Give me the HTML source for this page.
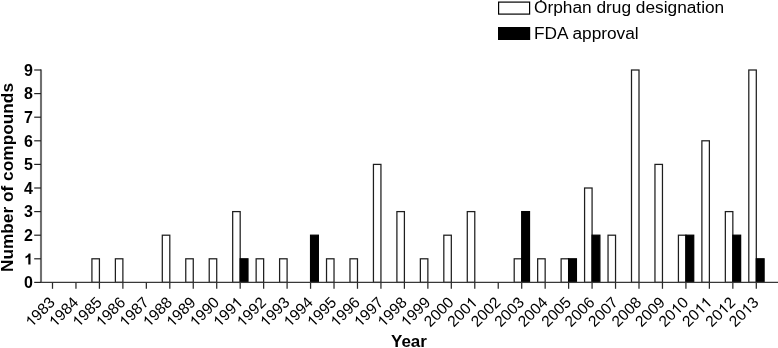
<!DOCTYPE html>
<html><head><meta charset="utf-8"><style>
html,body{margin:0;padding:0;background:#fff;}
body{width:778px;height:348px;overflow:hidden;}
svg{display:block;will-change:transform;font-family:"Liberation Sans",sans-serif;fill:#000;}
</style></head><body>
<svg width="778" height="348" viewBox="0 0 778 348">
<rect x="91.92" y="258.80" width="7.5" height="23.60" fill="#fff" stroke="#1e1e1e" stroke-width="1.25"/>
<rect x="115.38" y="258.80" width="7.5" height="23.60" fill="#fff" stroke="#1e1e1e" stroke-width="1.25"/>
<rect x="162.30" y="235.20" width="7.5" height="47.20" fill="#fff" stroke="#1e1e1e" stroke-width="1.25"/>
<rect x="185.76" y="258.80" width="7.5" height="23.60" fill="#fff" stroke="#1e1e1e" stroke-width="1.25"/>
<rect x="209.22" y="258.80" width="7.5" height="23.60" fill="#fff" stroke="#1e1e1e" stroke-width="1.25"/>
<rect x="232.68" y="211.60" width="7.5" height="70.80" fill="#fff" stroke="#1e1e1e" stroke-width="1.25"/>
<rect x="240.18" y="258.80" width="7.8" height="23.60" fill="#000" stroke="#000" stroke-width="1.25"/>
<rect x="256.14" y="258.80" width="7.5" height="23.60" fill="#fff" stroke="#1e1e1e" stroke-width="1.25"/>
<rect x="279.60" y="258.80" width="7.5" height="23.60" fill="#fff" stroke="#1e1e1e" stroke-width="1.25"/>
<rect x="310.56" y="235.20" width="7.8" height="47.20" fill="#000" stroke="#000" stroke-width="1.25"/>
<rect x="326.52" y="258.80" width="7.5" height="23.60" fill="#fff" stroke="#1e1e1e" stroke-width="1.25"/>
<rect x="349.98" y="258.80" width="7.5" height="23.60" fill="#fff" stroke="#1e1e1e" stroke-width="1.25"/>
<rect x="373.44" y="164.40" width="7.5" height="118.00" fill="#fff" stroke="#1e1e1e" stroke-width="1.25"/>
<rect x="396.90" y="211.60" width="7.5" height="70.80" fill="#fff" stroke="#1e1e1e" stroke-width="1.25"/>
<rect x="420.36" y="258.80" width="7.5" height="23.60" fill="#fff" stroke="#1e1e1e" stroke-width="1.25"/>
<rect x="443.82" y="235.20" width="7.5" height="47.20" fill="#fff" stroke="#1e1e1e" stroke-width="1.25"/>
<rect x="467.28" y="211.60" width="7.5" height="70.80" fill="#fff" stroke="#1e1e1e" stroke-width="1.25"/>
<rect x="514.20" y="258.80" width="7.5" height="23.60" fill="#fff" stroke="#1e1e1e" stroke-width="1.25"/>
<rect x="521.70" y="211.60" width="7.8" height="70.80" fill="#000" stroke="#000" stroke-width="1.25"/>
<rect x="537.66" y="258.80" width="7.5" height="23.60" fill="#fff" stroke="#1e1e1e" stroke-width="1.25"/>
<rect x="561.12" y="258.80" width="7.5" height="23.60" fill="#fff" stroke="#1e1e1e" stroke-width="1.25"/>
<rect x="568.62" y="258.80" width="7.8" height="23.60" fill="#000" stroke="#000" stroke-width="1.25"/>
<rect x="584.58" y="188.00" width="7.5" height="94.40" fill="#fff" stroke="#1e1e1e" stroke-width="1.25"/>
<rect x="592.08" y="235.20" width="7.8" height="47.20" fill="#000" stroke="#000" stroke-width="1.25"/>
<rect x="608.04" y="235.20" width="7.5" height="47.20" fill="#fff" stroke="#1e1e1e" stroke-width="1.25"/>
<rect x="631.50" y="70.00" width="7.5" height="212.40" fill="#fff" stroke="#1e1e1e" stroke-width="1.25"/>
<rect x="654.96" y="164.40" width="7.5" height="118.00" fill="#fff" stroke="#1e1e1e" stroke-width="1.25"/>
<rect x="678.42" y="235.20" width="7.5" height="47.20" fill="#fff" stroke="#1e1e1e" stroke-width="1.25"/>
<rect x="685.92" y="235.20" width="7.8" height="47.20" fill="#000" stroke="#000" stroke-width="1.25"/>
<rect x="701.88" y="140.80" width="7.5" height="141.60" fill="#fff" stroke="#1e1e1e" stroke-width="1.25"/>
<rect x="725.34" y="211.60" width="7.5" height="70.80" fill="#fff" stroke="#1e1e1e" stroke-width="1.25"/>
<rect x="732.84" y="235.20" width="7.8" height="47.20" fill="#000" stroke="#000" stroke-width="1.25"/>
<rect x="748.80" y="70.00" width="7.5" height="212.40" fill="#fff" stroke="#1e1e1e" stroke-width="1.25"/>
<rect x="756.30" y="258.80" width="7.8" height="23.60" fill="#000" stroke="#000" stroke-width="1.25"/>
<line x1="41.0" y1="69.40" x2="41.0" y2="283.00" stroke="#707070" stroke-width="2.1"/>
<line x1="40.4" y1="282.4" x2="778" y2="282.4" stroke="#383838" stroke-width="1.4"/>
<line x1="34.2" y1="282.40" x2="41.0" y2="282.40" stroke="#222" stroke-width="1.2"/>
<text x="33" y="288.20" text-anchor="end" font-weight="700" font-size="16">0</text>
<line x1="34.2" y1="258.80" x2="41.0" y2="258.80" stroke="#222" stroke-width="1.2"/>
<g transform="translate(33,264.60)"><path transform="translate(-8.898,0) scale(0.007812,-0.007812)" d="M819 0L538 0L538 1018C435 925 314 857 175 813L175 1058C248 1081 328 1124 414 1189C500 1253 559 1329 591 1409L819 1409Z"/></g>
<line x1="34.2" y1="235.20" x2="41.0" y2="235.20" stroke="#222" stroke-width="1.2"/>
<text x="33" y="241.00" text-anchor="end" font-weight="700" font-size="16">2</text>
<line x1="34.2" y1="211.60" x2="41.0" y2="211.60" stroke="#222" stroke-width="1.2"/>
<text x="33" y="217.40" text-anchor="end" font-weight="700" font-size="16">3</text>
<line x1="34.2" y1="188.00" x2="41.0" y2="188.00" stroke="#222" stroke-width="1.2"/>
<text x="33" y="193.80" text-anchor="end" font-weight="700" font-size="16">4</text>
<line x1="34.2" y1="164.40" x2="41.0" y2="164.40" stroke="#222" stroke-width="1.2"/>
<text x="33" y="170.20" text-anchor="end" font-weight="700" font-size="16">5</text>
<line x1="34.2" y1="140.80" x2="41.0" y2="140.80" stroke="#222" stroke-width="1.2"/>
<text x="33" y="146.60" text-anchor="end" font-weight="700" font-size="16">6</text>
<line x1="34.2" y1="117.20" x2="41.0" y2="117.20" stroke="#222" stroke-width="1.2"/>
<text x="33" y="123.00" text-anchor="end" font-weight="700" font-size="16">7</text>
<line x1="34.2" y1="93.60" x2="41.0" y2="93.60" stroke="#222" stroke-width="1.2"/>
<text x="33" y="99.40" text-anchor="end" font-weight="700" font-size="16">8</text>
<line x1="34.2" y1="70.00" x2="41.0" y2="70.00" stroke="#222" stroke-width="1.2"/>
<text x="33" y="75.80" text-anchor="end" font-weight="700" font-size="16">9</text>
<line x1="52.50" y1="282.4" x2="52.50" y2="288.8" stroke="#2a2a2a" stroke-width="1.25"/>
<g transform="translate(55.90,303.40) rotate(-45)"><text text-anchor="end" font-size="15.5"> 983</text><path transform="translate(-34.481,0) scale(0.007568,-0.007568)" d="M763 0L583 0L583 1103C540 1063 483 1023 413 984C343 944 280 914 223 894L223 1061C324 1106 412 1162 487 1226C562 1290 615 1352 646 1409L763 1409Z"/></g>
<line x1="75.96" y1="282.4" x2="75.96" y2="288.8" stroke="#2a2a2a" stroke-width="1.25"/>
<g transform="translate(79.36,303.40) rotate(-45)"><text text-anchor="end" font-size="15.5"> 984</text><path transform="translate(-34.481,0) scale(0.007568,-0.007568)" d="M763 0L583 0L583 1103C540 1063 483 1023 413 984C343 944 280 914 223 894L223 1061C324 1106 412 1162 487 1226C562 1290 615 1352 646 1409L763 1409Z"/></g>
<line x1="99.42" y1="282.4" x2="99.42" y2="288.8" stroke="#2a2a2a" stroke-width="1.25"/>
<g transform="translate(102.82,303.40) rotate(-45)"><text text-anchor="end" font-size="15.5"> 985</text><path transform="translate(-34.481,0) scale(0.007568,-0.007568)" d="M763 0L583 0L583 1103C540 1063 483 1023 413 984C343 944 280 914 223 894L223 1061C324 1106 412 1162 487 1226C562 1290 615 1352 646 1409L763 1409Z"/></g>
<line x1="122.88" y1="282.4" x2="122.88" y2="288.8" stroke="#2a2a2a" stroke-width="1.25"/>
<g transform="translate(126.28,303.40) rotate(-45)"><text text-anchor="end" font-size="15.5"> 986</text><path transform="translate(-34.481,0) scale(0.007568,-0.007568)" d="M763 0L583 0L583 1103C540 1063 483 1023 413 984C343 944 280 914 223 894L223 1061C324 1106 412 1162 487 1226C562 1290 615 1352 646 1409L763 1409Z"/></g>
<line x1="146.34" y1="282.4" x2="146.34" y2="288.8" stroke="#2a2a2a" stroke-width="1.25"/>
<g transform="translate(149.74,303.40) rotate(-45)"><text text-anchor="end" font-size="15.5"> 987</text><path transform="translate(-34.481,0) scale(0.007568,-0.007568)" d="M763 0L583 0L583 1103C540 1063 483 1023 413 984C343 944 280 914 223 894L223 1061C324 1106 412 1162 487 1226C562 1290 615 1352 646 1409L763 1409Z"/></g>
<line x1="169.80" y1="282.4" x2="169.80" y2="288.8" stroke="#2a2a2a" stroke-width="1.25"/>
<g transform="translate(173.20,303.40) rotate(-45)"><text text-anchor="end" font-size="15.5"> 988</text><path transform="translate(-34.481,0) scale(0.007568,-0.007568)" d="M763 0L583 0L583 1103C540 1063 483 1023 413 984C343 944 280 914 223 894L223 1061C324 1106 412 1162 487 1226C562 1290 615 1352 646 1409L763 1409Z"/></g>
<line x1="193.26" y1="282.4" x2="193.26" y2="288.8" stroke="#2a2a2a" stroke-width="1.25"/>
<g transform="translate(196.66,303.40) rotate(-45)"><text text-anchor="end" font-size="15.5"> 989</text><path transform="translate(-34.481,0) scale(0.007568,-0.007568)" d="M763 0L583 0L583 1103C540 1063 483 1023 413 984C343 944 280 914 223 894L223 1061C324 1106 412 1162 487 1226C562 1290 615 1352 646 1409L763 1409Z"/></g>
<line x1="216.72" y1="282.4" x2="216.72" y2="288.8" stroke="#2a2a2a" stroke-width="1.25"/>
<g transform="translate(220.12,303.40) rotate(-45)"><text text-anchor="end" font-size="15.5"> 990</text><path transform="translate(-34.481,0) scale(0.007568,-0.007568)" d="M763 0L583 0L583 1103C540 1063 483 1023 413 984C343 944 280 914 223 894L223 1061C324 1106 412 1162 487 1226C562 1290 615 1352 646 1409L763 1409Z"/></g>
<line x1="240.18" y1="282.4" x2="240.18" y2="288.8" stroke="#2a2a2a" stroke-width="1.25"/>
<g transform="translate(243.58,303.40) rotate(-45)"><text text-anchor="end" font-size="15.5"> 99 </text><path transform="translate(-34.481,0) scale(0.007568,-0.007568)" d="M763 0L583 0L583 1103C540 1063 483 1023 413 984C343 944 280 914 223 894L223 1061C324 1106 412 1162 487 1226C562 1290 615 1352 646 1409L763 1409Z"/><path transform="translate(-8.620,0) scale(0.007568,-0.007568)" d="M763 0L583 0L583 1103C540 1063 483 1023 413 984C343 944 280 914 223 894L223 1061C324 1106 412 1162 487 1226C562 1290 615 1352 646 1409L763 1409Z"/></g>
<line x1="263.64" y1="282.4" x2="263.64" y2="288.8" stroke="#2a2a2a" stroke-width="1.25"/>
<g transform="translate(267.04,303.40) rotate(-45)"><text text-anchor="end" font-size="15.5"> 992</text><path transform="translate(-34.481,0) scale(0.007568,-0.007568)" d="M763 0L583 0L583 1103C540 1063 483 1023 413 984C343 944 280 914 223 894L223 1061C324 1106 412 1162 487 1226C562 1290 615 1352 646 1409L763 1409Z"/></g>
<line x1="287.10" y1="282.4" x2="287.10" y2="288.8" stroke="#2a2a2a" stroke-width="1.25"/>
<g transform="translate(290.50,303.40) rotate(-45)"><text text-anchor="end" font-size="15.5"> 993</text><path transform="translate(-34.481,0) scale(0.007568,-0.007568)" d="M763 0L583 0L583 1103C540 1063 483 1023 413 984C343 944 280 914 223 894L223 1061C324 1106 412 1162 487 1226C562 1290 615 1352 646 1409L763 1409Z"/></g>
<line x1="310.56" y1="282.4" x2="310.56" y2="288.8" stroke="#2a2a2a" stroke-width="1.25"/>
<g transform="translate(313.96,303.40) rotate(-45)"><text text-anchor="end" font-size="15.5"> 994</text><path transform="translate(-34.481,0) scale(0.007568,-0.007568)" d="M763 0L583 0L583 1103C540 1063 483 1023 413 984C343 944 280 914 223 894L223 1061C324 1106 412 1162 487 1226C562 1290 615 1352 646 1409L763 1409Z"/></g>
<line x1="334.02" y1="282.4" x2="334.02" y2="288.8" stroke="#2a2a2a" stroke-width="1.25"/>
<g transform="translate(337.42,303.40) rotate(-45)"><text text-anchor="end" font-size="15.5"> 995</text><path transform="translate(-34.481,0) scale(0.007568,-0.007568)" d="M763 0L583 0L583 1103C540 1063 483 1023 413 984C343 944 280 914 223 894L223 1061C324 1106 412 1162 487 1226C562 1290 615 1352 646 1409L763 1409Z"/></g>
<line x1="357.48" y1="282.4" x2="357.48" y2="288.8" stroke="#2a2a2a" stroke-width="1.25"/>
<g transform="translate(360.88,303.40) rotate(-45)"><text text-anchor="end" font-size="15.5"> 996</text><path transform="translate(-34.481,0) scale(0.007568,-0.007568)" d="M763 0L583 0L583 1103C540 1063 483 1023 413 984C343 944 280 914 223 894L223 1061C324 1106 412 1162 487 1226C562 1290 615 1352 646 1409L763 1409Z"/></g>
<line x1="380.94" y1="282.4" x2="380.94" y2="288.8" stroke="#2a2a2a" stroke-width="1.25"/>
<g transform="translate(384.34,303.40) rotate(-45)"><text text-anchor="end" font-size="15.5"> 997</text><path transform="translate(-34.481,0) scale(0.007568,-0.007568)" d="M763 0L583 0L583 1103C540 1063 483 1023 413 984C343 944 280 914 223 894L223 1061C324 1106 412 1162 487 1226C562 1290 615 1352 646 1409L763 1409Z"/></g>
<line x1="404.40" y1="282.4" x2="404.40" y2="288.8" stroke="#2a2a2a" stroke-width="1.25"/>
<g transform="translate(407.80,303.40) rotate(-45)"><text text-anchor="end" font-size="15.5"> 998</text><path transform="translate(-34.481,0) scale(0.007568,-0.007568)" d="M763 0L583 0L583 1103C540 1063 483 1023 413 984C343 944 280 914 223 894L223 1061C324 1106 412 1162 487 1226C562 1290 615 1352 646 1409L763 1409Z"/></g>
<line x1="427.86" y1="282.4" x2="427.86" y2="288.8" stroke="#2a2a2a" stroke-width="1.25"/>
<g transform="translate(431.26,303.40) rotate(-45)"><text text-anchor="end" font-size="15.5"> 999</text><path transform="translate(-34.481,0) scale(0.007568,-0.007568)" d="M763 0L583 0L583 1103C540 1063 483 1023 413 984C343 944 280 914 223 894L223 1061C324 1106 412 1162 487 1226C562 1290 615 1352 646 1409L763 1409Z"/></g>
<line x1="451.32" y1="282.4" x2="451.32" y2="288.8" stroke="#2a2a2a" stroke-width="1.25"/>
<g transform="translate(454.72,303.40) rotate(-45)"><text text-anchor="end" font-size="15.5">2000</text></g>
<line x1="474.78" y1="282.4" x2="474.78" y2="288.8" stroke="#2a2a2a" stroke-width="1.25"/>
<g transform="translate(478.18,303.40) rotate(-45)"><text text-anchor="end" font-size="15.5">200 </text><path transform="translate(-8.620,0) scale(0.007568,-0.007568)" d="M763 0L583 0L583 1103C540 1063 483 1023 413 984C343 944 280 914 223 894L223 1061C324 1106 412 1162 487 1226C562 1290 615 1352 646 1409L763 1409Z"/></g>
<line x1="498.24" y1="282.4" x2="498.24" y2="288.8" stroke="#2a2a2a" stroke-width="1.25"/>
<g transform="translate(501.64,303.40) rotate(-45)"><text text-anchor="end" font-size="15.5">2002</text></g>
<line x1="521.70" y1="282.4" x2="521.70" y2="288.8" stroke="#2a2a2a" stroke-width="1.25"/>
<g transform="translate(525.10,303.40) rotate(-45)"><text text-anchor="end" font-size="15.5">2003</text></g>
<line x1="545.16" y1="282.4" x2="545.16" y2="288.8" stroke="#2a2a2a" stroke-width="1.25"/>
<g transform="translate(548.56,303.40) rotate(-45)"><text text-anchor="end" font-size="15.5">2004</text></g>
<line x1="568.62" y1="282.4" x2="568.62" y2="288.8" stroke="#2a2a2a" stroke-width="1.25"/>
<g transform="translate(572.02,303.40) rotate(-45)"><text text-anchor="end" font-size="15.5">2005</text></g>
<line x1="592.08" y1="282.4" x2="592.08" y2="288.8" stroke="#2a2a2a" stroke-width="1.25"/>
<g transform="translate(595.48,303.40) rotate(-45)"><text text-anchor="end" font-size="15.5">2006</text></g>
<line x1="615.54" y1="282.4" x2="615.54" y2="288.8" stroke="#2a2a2a" stroke-width="1.25"/>
<g transform="translate(618.94,303.40) rotate(-45)"><text text-anchor="end" font-size="15.5">2007</text></g>
<line x1="639.00" y1="282.4" x2="639.00" y2="288.8" stroke="#2a2a2a" stroke-width="1.25"/>
<g transform="translate(642.40,303.40) rotate(-45)"><text text-anchor="end" font-size="15.5">2008</text></g>
<line x1="662.46" y1="282.4" x2="662.46" y2="288.8" stroke="#2a2a2a" stroke-width="1.25"/>
<g transform="translate(665.86,303.40) rotate(-45)"><text text-anchor="end" font-size="15.5">2009</text></g>
<line x1="685.92" y1="282.4" x2="685.92" y2="288.8" stroke="#2a2a2a" stroke-width="1.25"/>
<g transform="translate(689.32,303.40) rotate(-45)"><text text-anchor="end" font-size="15.5">20 0</text><path transform="translate(-17.241,0) scale(0.007568,-0.007568)" d="M763 0L583 0L583 1103C540 1063 483 1023 413 984C343 944 280 914 223 894L223 1061C324 1106 412 1162 487 1226C562 1290 615 1352 646 1409L763 1409Z"/></g>
<line x1="709.38" y1="282.4" x2="709.38" y2="288.8" stroke="#2a2a2a" stroke-width="1.25"/>
<g transform="translate(712.78,303.40) rotate(-45)"><text text-anchor="end" font-size="15.5">20  </text><path transform="translate(-17.241,0) scale(0.007568,-0.007568)" d="M763 0L583 0L583 1103C540 1063 483 1023 413 984C343 944 280 914 223 894L223 1061C324 1106 412 1162 487 1226C562 1290 615 1352 646 1409L763 1409Z"/><path transform="translate(-8.620,0) scale(0.007568,-0.007568)" d="M763 0L583 0L583 1103C540 1063 483 1023 413 984C343 944 280 914 223 894L223 1061C324 1106 412 1162 487 1226C562 1290 615 1352 646 1409L763 1409Z"/></g>
<line x1="732.84" y1="282.4" x2="732.84" y2="288.8" stroke="#2a2a2a" stroke-width="1.25"/>
<g transform="translate(736.24,303.40) rotate(-45)"><text text-anchor="end" font-size="15.5">20 2</text><path transform="translate(-17.241,0) scale(0.007568,-0.007568)" d="M763 0L583 0L583 1103C540 1063 483 1023 413 984C343 944 280 914 223 894L223 1061C324 1106 412 1162 487 1226C562 1290 615 1352 646 1409L763 1409Z"/></g>
<line x1="756.30" y1="282.4" x2="756.30" y2="288.8" stroke="#2a2a2a" stroke-width="1.25"/>
<g transform="translate(759.70,303.40) rotate(-45)"><text text-anchor="end" font-size="15.5">20 3</text><path transform="translate(-17.241,0) scale(0.007568,-0.007568)" d="M763 0L583 0L583 1103C540 1063 483 1023 413 984C343 944 280 914 223 894L223 1061C324 1106 412 1162 487 1226C562 1290 615 1352 646 1409L763 1409Z"/></g>
<text transform="translate(13.3,272.1) rotate(-90)" font-weight="700" font-size="17.3">Number of compounds</text>
<text x="391" y="346.7" font-weight="700" font-size="17">Year</text>
<rect x="498.6" y="2.1" width="31" height="12" fill="#fff" stroke="#000" stroke-width="1.2"/>
<rect x="498.6" y="27.6" width="31" height="11.8" fill="#000" stroke="#000" stroke-width="1.2"/>
<rect x="540.2" y="0" width="1.6" height="1.4" fill="#000"/>
<text x="534" y="13.3" font-size="17.3">Orphan drug designation</text>
<text x="534" y="38.6" font-size="17.3">FDA approval</text>
</svg>
</body></html>
